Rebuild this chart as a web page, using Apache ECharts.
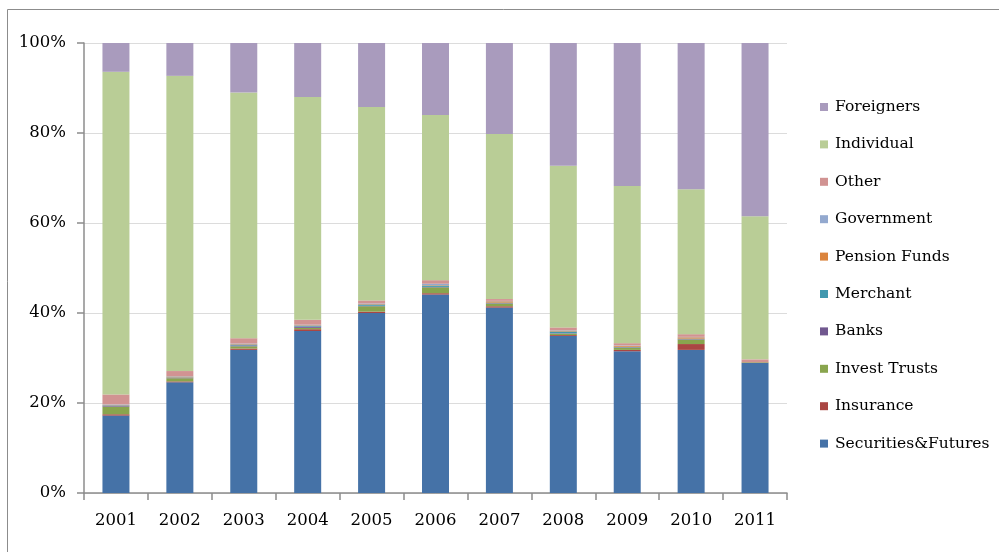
<!DOCTYPE html>
<html>
<head>
<meta charset="utf-8">
<script src="https://cdn.jsdelivr.net/npm/echarts@6/dist/echarts.min.js"></script>
<style>
html,body{margin:0;padding:0;background:#fff;}
#chart{width:999px;height:552px;}
</style>
</head>
<body>
<div id="chart"></div>
<script>
var years = ['2001','2002','2003','2004','2005','2006','2007','2008','2009','2010','2011'];
var securitiesFutures = [17.2, 24.6, 31.8, 36.0, 40.0, 44.1, 41.2, 34.9, 31.5, 31.8, 28.9];
var insurance        = [0.3, 0.2, 0.3, 0.4, 0.3, 0.3, 0.3, 0.2, 0.3, 1.3, 0.1];
var investTrusts     = [1.7, 0.7, 0.5, 0.3, 1.2, 1.3, 0.6, 0.3, 0.5, 1.0, 0.1];
var banks            = [0.2, 0.1, 0.2, 0.3, 0.1, 0.1, 0.1, 0.1, 0.1, 0.1, 0.0];
var merchant         = [0.1, 0.1, 0.2, 0.2, 0.3, 0.3, 0.1, 0.4, 0.1, 0.1, 0.0];
var pensionFunds     = [0.1, 0.2, 0.1, 0.1, 0.1, 0.1, 0.3, 0.2, 0.2, 0.3, 0.0];
var government       = [0.1, 0.1, 0.1, 0.1, 0.1, 0.3, 0.1, 0.1, 0.1, 0.1, 0.0];
var other            = [2.2, 1.1, 1.2, 1.1, 0.7, 0.8, 0.4, 0.6, 0.5, 0.6, 0.6];
var individual       = [71.7, 65.6, 54.6, 49.5, 43.0, 36.7, 36.7, 35.9, 34.9, 32.2, 31.8];
var foreigners       = [6.4, 7.3, 11.0, 12.0, 14.2, 16.0, 20.2, 27.3, 31.8, 32.5, 38.5];
var yTicks = [0, 20, 40, 60, 80, 100];

var seriesDefs = [
  {name: 'Securities&Futures', data: securitiesFutures, color: '#4572A7'},
  {name: 'Insurance', data: insurance, color: '#AA4643'},
  {name: 'Invest Trusts', data: investTrusts, color: '#89A54E'},
  {name: 'Banks', data: banks, color: '#71588F'},
  {name: 'Merchant', data: merchant, color: '#4198AF'},
  {name: 'Pension Funds', data: pensionFunds, color: '#DB843D'},
  {name: 'Government', data: government, color: '#93A9CF'},
  {name: 'Other', data: other, color: '#D19392'},
  {name: 'Individual', data: individual, color: '#B9CD96'},
  {name: 'Foreigners', data: foreigners, color: '#A99BBD'}
];

var font = 'DejaVu Serif';
var chart = echarts.init(document.getElementById('chart'));
chart.setOption({
  animation: false,
  backgroundColor: '#fff',
  graphic: [{
    type: 'rect', left: 5, top: 7, shape: {width: 1000, height: 560},
    style: {fill: 'none', stroke: '#8c8c8c', lineWidth: 1}, silent: true, z: -1
  }],
  grid: {left: 84, right: 212, top: 43, bottom: 59, containLabel: false},
  legend: {
    orient: 'vertical', left: 815, top: 94,
    itemWidth: 8, itemHeight: 8, itemGap: 21.4, icon: 'rect',
    data: seriesDefs.map(function(s){return s.name;}).reverse(),
    textStyle: {fontFamily: font, fontSize: 15.5, color: '#000', padding: [0,0,0,2]}
  },
  xAxis: {
    type: 'category', data: years,
    axisLine: {lineStyle: {color: '#8c8c8c', width: 1.5}},
    axisTick: {show: true, length: 7, alignWithLabel: false, lineStyle: {color: '#8c8c8c', width: 1.5}},
    axisLabel: {fontFamily: font, fontSize: 16.5, color: '#000', margin: 19}
  },
  yAxis: {
    type: 'value', min: yTicks[0], max: yTicks[yTicks.length-1], interval: 20,
    axisLine: {show: true, lineStyle: {color: '#8c8c8c', width: 1.5}},
    axisTick: {show: true, length: 7, lineStyle: {color: '#8c8c8c', width: 1.5}},
    splitLine: {lineStyle: {color: '#dcdcdc', width: 1}},
    axisLabel: {fontFamily: font, fontSize: 16.5, color: '#000', margin: 18, formatter: '{value}%'}
  },
  series: seriesDefs.map(function(s){
    return {
      name: s.name, type: 'bar', stack: 'total', data: s.data, barWidth: 27,
      itemStyle: {color: s.color}
    };
  })
});
</script>
</body>
</html>
